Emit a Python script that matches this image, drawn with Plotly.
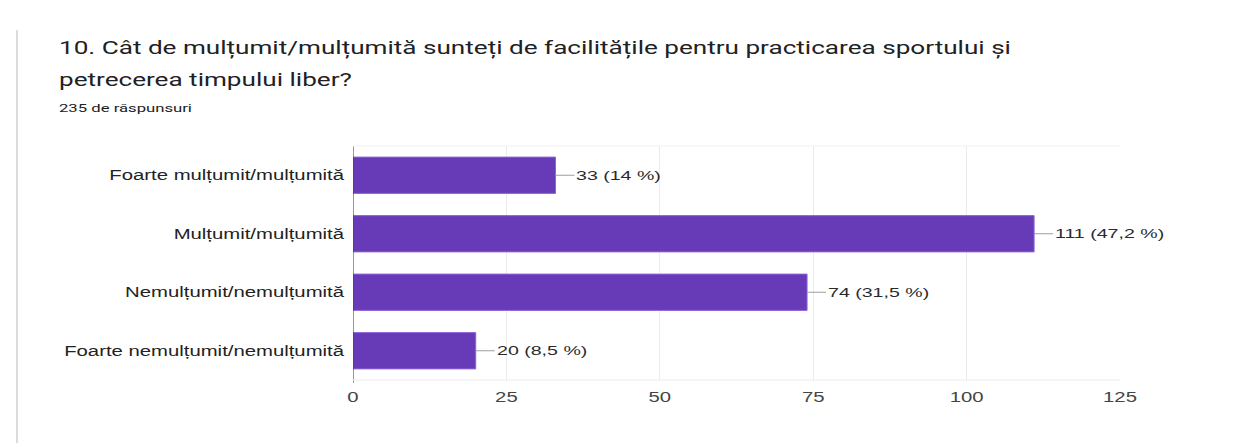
import plotly.graph_objects as go

# Survey answers (top to bottom) and response counts
categories = [
    "Foarte mulțumit/mulțumită",
    "Mulțumit/mulțumită",
    "Nemulțumit/nemulțumită",
    "Foarte nemulțumit/nemulțumită",
]
counts = [33, 111, 74, 20]
percent_labels = ["14 %", "47,2 %", "31,5 %", "8,5 %"]
x_ticks = [0, 25, 50, 75, 100, 125]

title_line1 = "10. Cât de mulțumit/mulțumită sunteți de facilitățile pentru practicarea sportului și"
title_line2 = "petrecerea timpului liber?"
subtitle = "235 de răspunsuri"

W, H = 1248, 443
L, R, T, B = 353, 128, 146, 63
TEXT_STRETCH = 1.45  # the page renders text horizontally widened

ARIAL = "Liberation Sans, Arial, sans-serif"
TITLE_FONT = "Roboto, Arial, sans-serif"

fig = go.Figure()
fig.add_trace(go.Bar(
    x=counts,
    y=categories,
    orientation="h",
    marker=dict(color="#673ab7", line=dict(color="#8e63d6", width=1)),
    width=0.62,
    hoverinfo="skip",
))

annotations = []
for cat, n, p in zip(categories, counts, percent_labels):
    annotations.append(dict(
        x=n, y=cat, xref="x", yref="y",
        text=f"{n} ({p})", align="left",
        showarrow=True, arrowhead=0, arrowwidth=1, arrowcolor="#9e9e9e",
        ax=19, ay=0, xanchor="left", yanchor="middle",
        standoff=0, startstandoff=0,
        font=dict(family=ARIAL, size=13.5, color="#2a2a2a"),
    ))


def px_x(p):
    return (p - L) / (W - L - R)


def px_y(p):
    return 1 - (p - T) / (H - T - B)


annotations += [
    dict(text=title_line1, x=px_x(57), y=px_y(48), xref="paper", yref="paper",
         xanchor="left", yanchor="middle", align="left", showarrow=False,
         font=dict(family=TITLE_FONT, size=18, color="#202124")),
    dict(text=title_line2, x=px_x(57), y=px_y(79), xref="paper", yref="paper",
         xanchor="left", yanchor="middle", align="left", showarrow=False,
         font=dict(family=TITLE_FONT, size=18, color="#202124")),
    dict(text=subtitle, x=px_x(57), y=px_y(108), xref="paper", yref="paper",
         xanchor="left", yanchor="middle", align="left", showarrow=False,
         font=dict(family=TITLE_FONT, size=11.5, color="#202124")),
]

shapes = [
    # card left edge
    dict(type="line", xref="paper", yref="paper",
         x0=px_x(17), x1=px_x(17), y0=px_y(30), y1=px_y(H + 5),
         line=dict(color="#dadce0", width=2)),
    # baseline at zero, extending slightly below the plot
    dict(type="line", xref="x", yref="paper", x0=0, x1=0, y0=px_y(383), y1=1,
         line=dict(color="#333333", width=1)),
    # bottom and top borders of the plot area
    dict(type="line", xref="paper", yref="paper", x0=0, x1=1, y0=0, y1=0,
         line=dict(color="#ebebeb", width=1)),
    dict(type="line", xref="paper", yref="paper", x0=0, x1=1, y0=1, y1=1,
         line=dict(color="#f3f3f3", width=1)),
]

fig.update_layout(
    width=W, height=H,
    margin=dict(l=L, r=R, t=T, b=B),
    paper_bgcolor="white", plot_bgcolor="white",
    showlegend=False,
    annotations=annotations,
    shapes=shapes,
    xaxis=dict(
        range=[0, 125], tickvals=x_ticks, showgrid=True, gridcolor="#ebebeb",
        gridwidth=1, zeroline=False, showline=False, ticks="",
        ticklabelstandoff=7,
        tickfont=dict(family=ARIAL, size=14, color="#444444"),
        fixedrange=True,
    ),
    yaxis=dict(
        autorange="reversed", showgrid=False, zeroline=False, showline=False,
        ticks="", ticklabelstandoff=8,
        tickfont=dict(family=ARIAL, size=14, color="#222222"),
        fixedrange=True,
    ),
)

# Widen every text horizontally, keeping each text's anchor in place
stretch_js = """
var gd = document.getElementById('{plot_id}');
function widenText() {
  gd.querySelectorAll('svg text').forEach(function (t) {
    if (t.getAttribute('data-wide')) return;
    var w = t.getComputedTextLength();
    if (!w) return;
    t.setAttribute('textLength', (w * %s).toFixed(2));
    t.setAttribute('lengthAdjust', 'spacingAndGlyphs');
    t.setAttribute('data-wide', '1');
  });
}
widenText();
gd.on('plotly_afterplot', widenText);
""" % TEXT_STRETCH

fig.write_html("out.html", config={"displayModeBar": False}, post_script=stretch_js)
